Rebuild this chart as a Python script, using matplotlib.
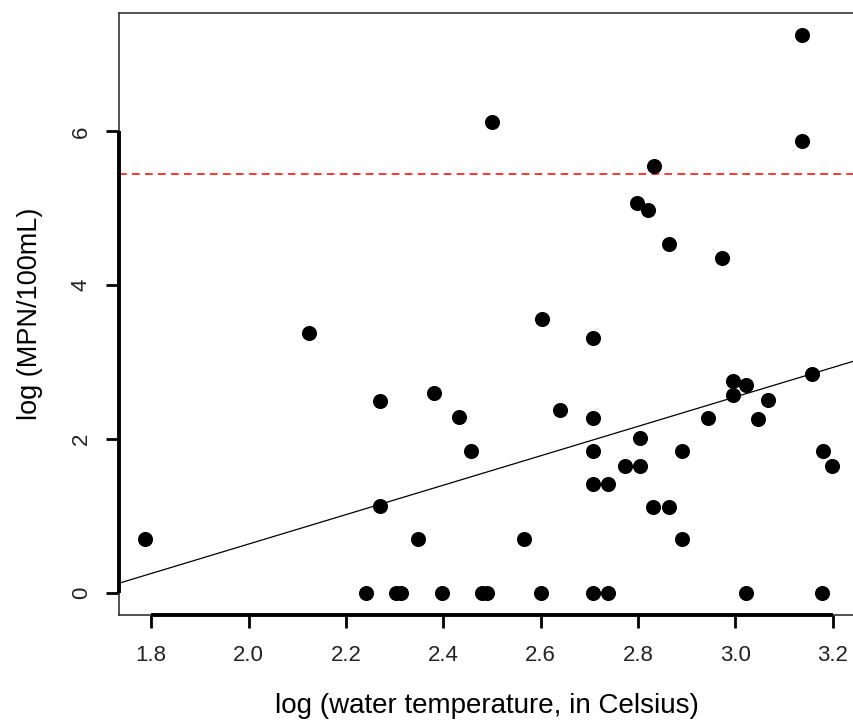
import matplotlib.pyplot as plt
import numpy as np

# log water temperature (x) and log MPN/100mL (y)
log_temp = [3.136, 2.501, 3.136, 2.832, 2.797, 2.820, 2.863, 2.972, 2.603,
            2.125, 2.271, 2.380, 2.432, 2.457, 2.271, 1.788, 2.348,
            2.708, 2.640, 2.708, 2.805, 2.708, 2.890, 2.773, 2.805,
            2.708, 2.739, 2.831, 2.863, 2.565, 2.890, 2.944, 2.996,
            3.022, 2.996, 3.068, 3.046, 3.158, 3.179, 3.198,
            2.241, 2.303, 2.313, 2.398, 2.480, 2.490, 2.600, 2.707,
            2.739, 3.022, 3.178]
log_mpn = [7.256, 6.126, 5.875, 5.554, 5.074, 4.983, 4.532, 4.355, 3.567,
           3.385, 2.494, 2.597, 2.294, 1.844, 1.130, 0.701, 0.701,
           3.316, 2.385, 2.277, 2.009, 1.844, 1.844, 1.649, 1.649,
           1.420, 1.420, 1.121, 1.121, 0.701, 0.701, 2.277, 2.762,
           2.705, 2.575, 2.510, 2.260, 2.853, 1.844, 1.649,
           0, 0, 0, 0, 0, 0, 0, 0,
           0, 0, 0]

# fitted line and the standard (red dashed)
fit_intercept = -3.19
fit_slope = 1.913
standard = 5.45

x_ticks = [1.8, 2.0, 2.2, 2.4, 2.6, 2.8, 3.0, 3.2]
y_ticks = [0, 2, 4, 6]

plt.rcParams['font.family'] = ['Liberation Sans', 'DejaVu Sans']

fig = plt.figure(figsize=(8.54, 7.21), dpi=100)
ax = fig.add_axes([119 / 854, 106 / 721, 741 / 854, 602 / 721])

ax.scatter(log_temp, log_mpn, s=118, color='black', zorder=3, linewidths=0)
xl = np.array([1.70, 3.30])
ax.plot(xl, fit_intercept + fit_slope * xl, color='black', lw=0.9)
ax.axhline(standard, color='red', ls=(0, (5, 3.5)), lw=1.1)

ax.set_xlim(1.734, 3.256)
ax.set_ylim(-0.286, 7.54)

for s in ax.spines.values():
    s.set_linewidth(1.2)
    s.set_color('#333333')

# R style axis lines spanning the ticks only
ax.plot([x_ticks[0], x_ticks[-1]], [-0.286, -0.286], color='black', lw=2.8,
        clip_on=False, solid_capstyle='butt', zorder=4)
ax.plot([1.734, 1.734], [y_ticks[0], y_ticks[-1]], color='black', lw=2.8,
        clip_on=False, solid_capstyle='butt', zorder=4)

ax.set_xticks(x_ticks)
ax.set_xticklabels(['%.1f' % v for v in x_ticks])
ax.set_yticks(y_ticks)
ax.set_yticklabels([str(v) for v in y_ticks], rotation=90, va='center')
ax.tick_params(axis='both', direction='out', length=9.5, width=2,
               labelsize=16, color='black', labelcolor='#222222')
ax.tick_params(axis='x', pad=12)
ax.tick_params(axis='y', pad=10)

ax.set_xlabel('log (water temperature, in Celsius)', fontsize=20)
ax.xaxis.set_label_coords(0.497, -0.13)
ax.set_ylabel('log (MPN/100mL)', fontsize=19.5, labelpad=20)

fig.savefig('out.png', dpi=100)
